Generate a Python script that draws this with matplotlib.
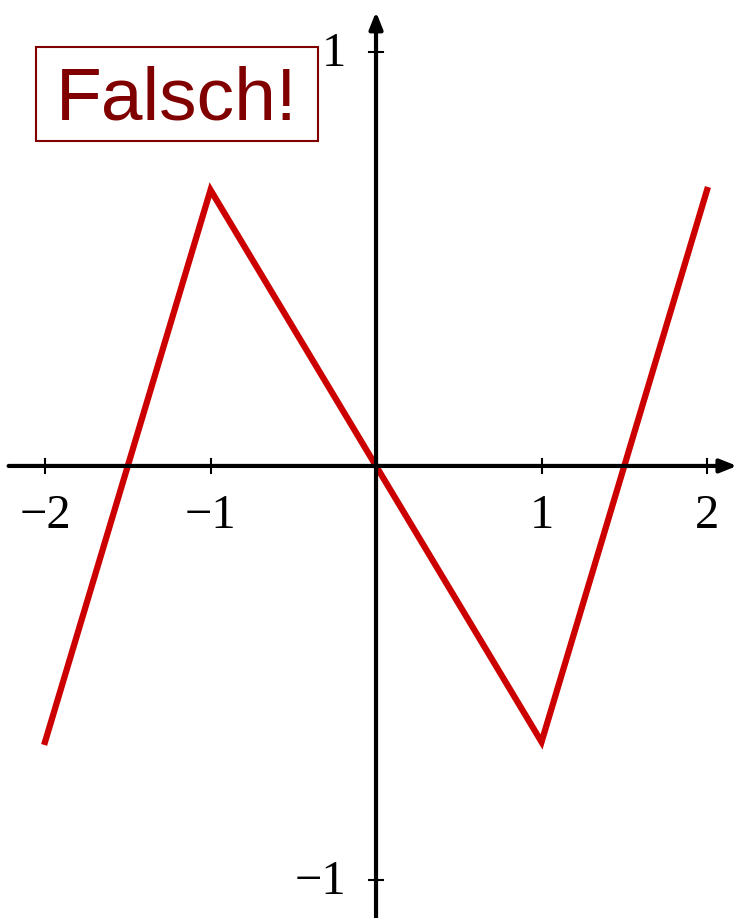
import matplotlib.pyplot as plt
from matplotlib.patches import Rectangle

# Stützstellen der stückweise linearen Funktion
x_werte = [-2, -1, 1, 2]
y_werte = [-2 / 3, 2 / 3, -2 / 3, 2 / 3]

x_ticks = [-2, -1, 1, 2]
x_tick_labels = ["\u22122", "\u22121", "1", "2"]
y_ticks = [1, -1]
y_tick_labels = ["1", "\u22121"]

fig = plt.figure(figsize=(7.37, 9.18), dpi=100)
ax = fig.add_axes([0, 0, 1, 1])
ax.set_xlim(-2.272, 2.181)
ax.set_ylim(-1.092, 1.1256)
ax.axis("off")

pfeil = dict(arrowstyle="-|>,head_length=1.0,head_width=0.4", color="black",
             lw=3, shrinkA=0, shrinkB=0)
ax.annotate("", xy=(2.181, 0), xytext=(-2.22, 0), arrowprops=pfeil)
ax.annotate("", xy=(0, 1.097), xytext=(0, -1.1), arrowprops=pfeil)

serif = ["Liberation Serif", "DejaVu Serif"]
for xt, lab in zip(x_ticks, x_tick_labels):
    ax.plot([xt, xt], [-0.016, 0.016], color="black", lw=1.5)
    ax.text(xt, -0.121, lab, ha="center", va="center", fontsize=35, family=serif)
for yt, lab in zip(y_ticks, y_tick_labels):
    ax.plot([-0.04, 0.04], [yt, yt], color="black", lw=1.5)
    ax.text(-0.18, yt - 0.005, lab, ha="right", va="center", fontsize=35, family=serif)

ax.plot(x_werte, y_werte, color="#cc0000", lw=4.5, solid_joinstyle="miter")

# Kasten mit "Falsch!"
ax.add_patch(Rectangle((0.0488, 0.8464), 0.3826, 0.1024, transform=ax.transAxes,
                       fc="white", ec="#800000", lw=1.5, zorder=3))
ax.text(0.0488 + 0.3826 / 2, 0.8693, "Falsch!", transform=ax.transAxes,
        ha="center", va="baseline", fontsize=54, color="#800000",
        family=["Liberation Sans", "DejaVu Sans"], zorder=4)

fig.savefig("out.png", dpi=100)
